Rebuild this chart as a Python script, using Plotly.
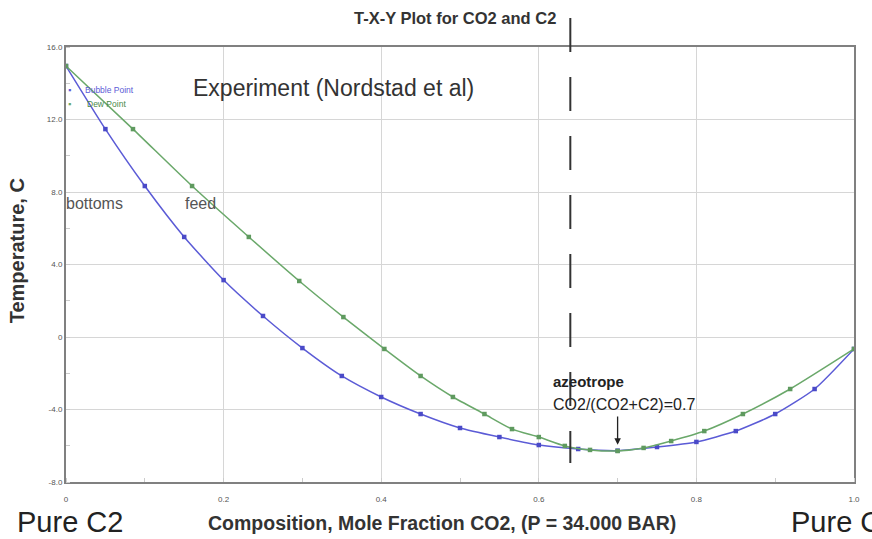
import plotly.graph_objects as go

# Bubble point (liquid composition) data
bubble_x = [0.0, 0.05, 0.10, 0.15, 0.20, 0.25, 0.30, 0.35, 0.40, 0.45, 0.50, 0.55, 0.60,
            0.65, 0.70, 0.75, 0.80, 0.85, 0.90, 0.95, 1.0]
bubble_t = [14.95, 11.47, 8.33, 5.52, 3.14, 1.16, -0.61, -2.15, -3.31, -4.25, -5.02, -5.52, -5.96,
            -6.18, -6.27, -6.07, -5.79, -5.19, -4.25, -2.87, -0.66]

# Dew point (vapour composition) data
dew_x = [0.0, 0.085, 0.160, 0.232, 0.296, 0.352, 0.404, 0.450, 0.491, 0.531, 0.566, 0.600, 0.633,
         0.665, 0.700, 0.733, 0.768, 0.810, 0.859, 0.919, 1.0]
dew_t = [14.95, 11.47, 8.33, 5.52, 3.09, 1.10, -0.66, -2.15, -3.31, -4.25, -5.08, -5.52, -6.01,
         -6.23, -6.29, -6.12, -5.74, -5.19, -4.25, -2.87, -0.66]

x_ticks = [0, 0.2, 0.4, 0.6, 0.8, 1.0]
x_tick_labels = ["0", "0.2", "0.4", "0.6", "0.8", "1.0"]
y_ticks = [16, 12, 8, 4, 0, -4, -8]
y_tick_labels = ["16.0", "12.0", "8.0", "4.0", "0", "-4.0", "-8.0"]

azeo_x = 0.70
azeo_t = -6.29
feed_line_x = 0.64

BLUE = "#5b5bd6"
GREEN = "#6aa86a"
FONT = "Liberation Sans, Arial, sans-serif"

fig = go.Figure()
fig.add_trace(go.Scatter(x=bubble_x, y=bubble_t, mode="lines+markers", name="Bubble Point",
                         line=dict(color=BLUE, width=1.5, shape="spline", smoothing=0.6),
                         marker=dict(size=4.5, color="#4a4ac8", symbol="square")))
fig.add_trace(go.Scatter(x=dew_x, y=dew_t, mode="lines+markers", name="Dew Point",
                         line=dict(color=GREEN, width=1.5, shape="spline", smoothing=0.6),
                         marker=dict(size=4.5, color="#5f9a5f", symbol="square")))

axis_common = dict(showline=True, linecolor="#808080", linewidth=2, mirror=True,
                   showgrid=True, gridcolor="#d6d6d6", gridwidth=1, zeroline=False,
                   ticks="", tickfont=dict(size=8, color="#555", family=FONT))

fig.update_xaxes(range=[0, 1.0], tickvals=x_ticks, ticktext=x_tick_labels, ticklabelstandoff=8,
                 minor=dict(dtick=0.1, ticks="inside", ticklen=4, tickcolor="#cccccc", showgrid=False),
                 **axis_common)
fig.update_yaxes(range=[-8, 16], tickvals=y_ticks, ticktext=y_tick_labels,
                 minor=dict(dtick=2, ticks="inside", ticklen=4, tickcolor="#cccccc", showgrid=False),
                 **axis_common)

fig.add_shape(type="line", xref="x", yref="paper", x0=feed_line_x, x1=feed_line_x, y0=1.0667, y1=0.0437,
              line=dict(color="#333", width=2, dash="34px,25px"))

annotations = [
    dict(text="<b>T-X-Y Plot for CO2 and C2</b>", xref="paper", yref="paper", x=0.494, y=1.067,
         xanchor="center", yanchor="middle", showarrow=False, font=dict(size=16.5, color="#333", family=FONT)),
    dict(text="<b>Temperature, C</b>", xref="paper", yref="paper", x=-0.0618, y=0.531, textangle=-90,
         xanchor="center", yanchor="middle", showarrow=False, font=dict(size=20, color="#333", family=FONT)),
    dict(text="<b>Composition, Mole Fraction CO2, (P = 34.000 BAR)</b>", xref="paper", yref="paper",
         x=0.477, y=-0.094, xanchor="center", yanchor="middle", showarrow=False,
         font=dict(size=19.5, color="#333", family=FONT)),
    dict(text="Pure C2", xref="paper", yref="paper", x=-0.0645, y=-0.093, xanchor="left", yanchor="middle",
         showarrow=False, font=dict(size=29, color="#222", family=FONT)),
    dict(text="Pure CO2", xref="paper", yref="paper", x=0.917, y=-0.093, xanchor="left", yanchor="middle",
         showarrow=False, font=dict(size=29, color="#222", family=FONT)),
    dict(text="Experiment (Nordstad et al)", xref="paper", yref="paper", x=0.158, y=0.906,
         xanchor="left", yanchor="middle", showarrow=False, font=dict(size=23, color="#333", family=FONT)),
    dict(text="bottoms", xref="paper", yref="y", x=-0.003, y=7.39, xanchor="left", yanchor="middle",
         showarrow=False, font=dict(size=16, color="#555", family=FONT)),
    dict(text="feed", xref="x", yref="y", x=0.148, y=7.39, xanchor="left", yanchor="middle",
         showarrow=False, font=dict(size=16, color="#555", family=FONT)),
    dict(text="<b>azeotrope</b>", xref="x", yref="y", x=0.615, y=-2.48, xanchor="left", yanchor="middle",
         showarrow=False, font=dict(size=15, color="#222", family=FONT)),
    dict(text="CO2/(CO2+C2)=0.7", xref="x", yref="y", x=0.615, y=-3.75, xanchor="left", yanchor="middle",
         showarrow=False, font=dict(size=16, color="#222", family=FONT)),
    dict(text="", xref="x", yref="y", x=azeo_x, y=azeo_t + 0.35, ax=azeo_x, ay=-4.3, axref="x", ayref="y",
         showarrow=True, arrowhead=2, arrowsize=1, arrowwidth=1.3, arrowcolor="#222"),
    dict(text="<b>▪</b>", xref="paper", yref="paper", x=0.0, y=0.901, xanchor="left", yanchor="middle",
         showarrow=False, font=dict(size=9, color=BLUE, family=FONT)),
    dict(text="Bubble Point", xref="paper", yref="paper", x=0.022, y=0.901, xanchor="left", yanchor="middle",
         showarrow=False, font=dict(size=8.5, color=BLUE, family=FONT)),
    dict(text="<b>▪</b>", xref="paper", yref="paper", x=0.0, y=0.869, xanchor="left", yanchor="middle",
         showarrow=False, font=dict(size=9, color=GREEN, family=FONT)),
    dict(text="Dew Point", xref="paper", yref="paper", x=0.024, y=0.869, xanchor="left", yanchor="middle",
         showarrow=False, font=dict(size=8.5, color="#4a8a4a", family=FONT)),
]

fig.update_layout(width=872, height=539, margin=dict(l=66, r=13, t=47, b=57),
                  paper_bgcolor="white", plot_bgcolor="white", showlegend=False,
                  annotations=annotations, font=dict(family=FONT))

fig.write_html("out.html")
